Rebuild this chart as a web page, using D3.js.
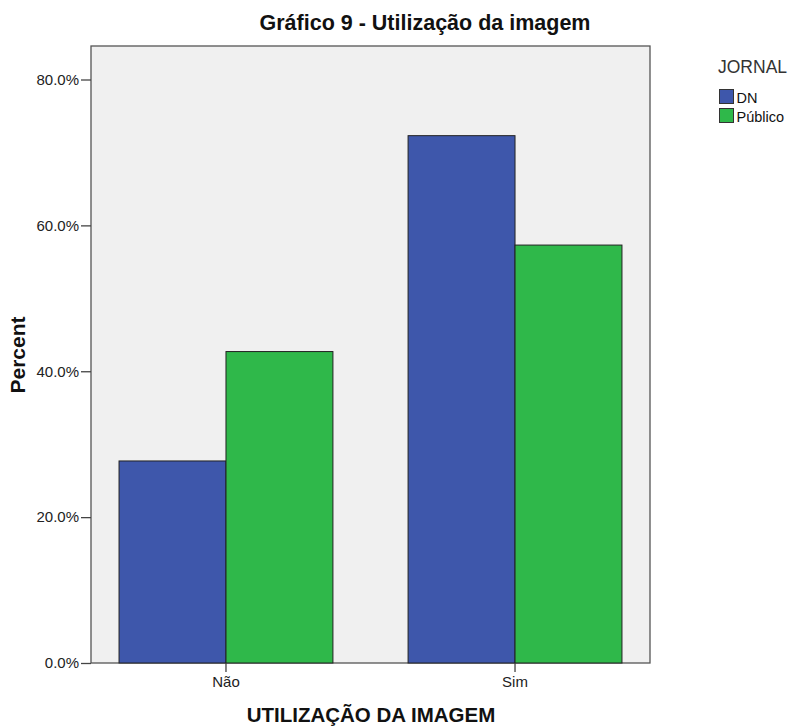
<!DOCTYPE html>
<html>
<head>
<meta charset="utf-8">
<script src="https://cdn.jsdelivr.net/npm/d3@7"></script>
<style>
  body { margin: 0; background: #fff; }
  text { font-family: "Liberation Sans", Arial, sans-serif; }
</style>
</head>
<body>
<div id="chart"></div>
<script>
// chart data
const categories = ["Não", "Sim"];
const series = ["DN", "Público"];
const dnValues = [27.7, 72.3];
const publicoValues = [42.7, 57.3];
const yTicks = [0, 20, 40, 60, 80];
const colors = ["#3e57ab", "#2fb84a"];

const width = 792, height = 726;
const plot = { left: 91, right: 650, top: 46, bottom: 663 };

const svg = d3.select("#chart").append("svg")
    .attr("width", width)
    .attr("height", height);

const x = d3.scaleBand()
    .domain(categories)
    .range([plot.left, plot.right])
    .paddingInner(0.26)
    .paddingOuter(0.097);

const xInner = d3.scaleBand()
    .domain(series)
    .range([0, x.bandwidth()]);

const y = d3.scaleLinear()
    .domain([0, 80])
    .range([plot.bottom, 79.5]);

// plot background
svg.append("rect")
    .attr("x", plot.left)
    .attr("y", plot.top)
    .attr("width", plot.right - plot.left)
    .attr("height", plot.bottom - plot.top)
    .attr("fill", "#f0f0f0")
    .attr("stroke", "#555")
    .attr("stroke-width", 1.3);

const rows = categories.map((c, i) => ({ cat: c, vals: [dnValues[i], publicoValues[i]] }));

const groups = svg.selectAll(".grp")
    .data(rows)
    .enter().append("g")
    .attr("class", "grp")
    .attr("transform", d => `translate(${x(d.cat)},0)`);

groups.selectAll("rect")
    .data(d => d.vals.map((v, j) => ({ s: series[j], v: v, j: j })))
    .enter().append("rect")
    .attr("x", d => xInner(d.s))
    .attr("y", d => y(d.v))
    .attr("width", xInner.bandwidth())
    .attr("height", d => y(0) - y(d.v))
    .attr("fill", d => colors[d.j])
    .attr("stroke", "#222")
    .attr("stroke-width", 1);

// y axis
const yAxis = d3.axisLeft(y)
    .tickValues(yTicks)
    .tickSize(10)
    .tickPadding(2)
    .tickFormat(d => d.toFixed(1) + "%");

const gy = svg.append("g")
    .attr("transform", `translate(${plot.left},0)`)
    .call(yAxis);
gy.select(".domain").remove();
gy.selectAll("line").attr("stroke", "#444").attr("stroke-width", 1.3);
gy.selectAll("text").attr("font-size", 15).attr("fill", "#222");

// x axis
const xAxis = d3.axisBottom(x)
    .tickSize(9)
    .tickPadding(4);
const gx = svg.append("g")
    .attr("transform", `translate(0,${plot.bottom})`)
    .call(xAxis);
gx.select(".domain").remove();
gx.selectAll("line").attr("stroke", "#444").attr("stroke-width", 1.3);
gx.selectAll("text").attr("font-size", 15).attr("fill", "#222");

// titles
svg.append("text")
    .attr("x", 425)
    .attr("y", 30)
    .attr("text-anchor", "middle")
    .attr("font-size", 21.5)
    .attr("font-weight", "bold")
    .attr("fill", "#111")
    .text("Gráfico 9 - Utilização da imagem");

svg.append("text")
    .attr("x", 371)
    .attr("y", 722)
    .attr("text-anchor", "middle")
    .attr("font-size", 20.5)
    .attr("font-weight", "bold")
    .attr("fill", "#111")
    .text("UTILIZAÇÃO DA IMAGEM");

svg.append("text")
    .attr("transform", `translate(25,${355}) rotate(-90)`)
    .attr("text-anchor", "middle")
    .attr("font-size", 21)
    .attr("font-weight", "bold")
    .attr("fill", "#111")
    .text("Percent");

// legend
const legend = svg.append("g").attr("transform", "translate(718,0)");
legend.append("text")
    .attr("x", 0)
    .attr("y", 73)
    .attr("font-size", 17.5)
    .attr("fill", "#333")
    .text("JORNAL");

series.forEach((s, i) => {
    legend.append("rect")
        .attr("x", 1.5)
        .attr("y", 89.5 + i * 19)
        .attr("width", 14)
        .attr("height", 14)
        .attr("fill", colors[i])
        .attr("stroke", "#333")
        .attr("stroke-width", 1);
    legend.append("text")
        .attr("x", 18.5)
        .attr("y", 103 + i * 19)
        .attr("font-size", 14.5)
        .attr("fill", "#111")
        .text(s);
});
</script>
</body>
</html>
